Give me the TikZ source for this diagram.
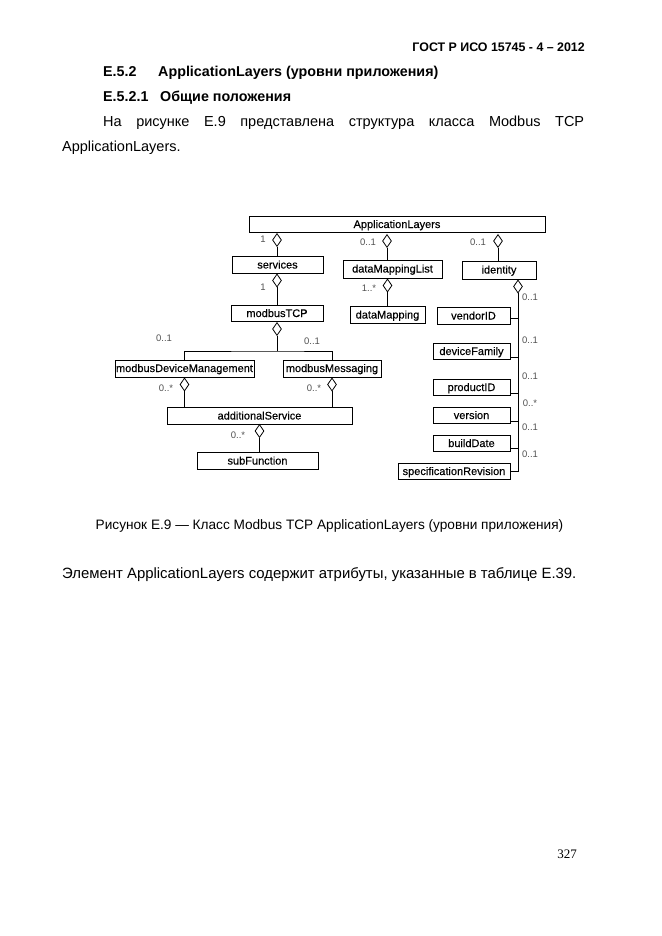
\documentclass[tikz,border=0pt]{standalone}
\usepackage{fontspec}
\setmainfont{Liberation Sans}
\newfontfamily\pagefont{Liberation Serif}
\newfontfamily\boxfont[FakeBold=0.3]{Liberation Sans}
\usetikzlibrary{shapes.geometric}
\begin{document}
\begin{tikzpicture}[x=1pt,y=-1pt,
  cls/.style={draw, line width=0.9pt, rectangle, inner sep=0pt, text height=8pt, text depth=1pt, font=\boxfont\fontsize{11}{12}\selectfont},
  agg/.style={draw, diamond, line width=0.8pt, inner sep=0pt, minimum width=9pt, minimum height=13pt, fill=white},
  mult/.style={font=\fontsize{9.5}{11}\selectfont, text=black!68, inner sep=0pt},
  conn/.style={line width=0.8pt},
  body/.style={anchor=base west, inner sep=0pt, font=\fontsize{14.5}{16}\selectfont},
  bodyb/.style={anchor=base west, inner sep=0pt, font=\bfseries\fontsize{14.3}{16}\selectfont}]
\useasboundingbox (0,0) rectangle (661,936);
\fill[white] (0,0) rectangle (661,936);

% ---- page text ----
\node[anchor=base east, inner sep=0pt, font=\bfseries\fontsize{12.4}{14}\selectfont] (hdr) at (585,52) {ГОСТ Р ИСО 15745 - 4 – 2012};
\node[bodyb] (h1n) at (103,77) {E.5.2};
\node[bodyb] (h1t) at (158,77) {ApplicationLayers (уровни приложения)};
\node[bodyb] (h2n) at (103,102) {E.5.2.1};
\node[bodyb] (h2t) at (160,102) {Общие положения};
\node[body] (p1) at (103,127) {\hbox to 481pt{На\hfil рисунке\hfil Е.9\hfil представлена\hfil структура\hfil класса\hfil Modbus\hfil TCP}};
\node[body] (p2) at (62,152) {ApplicationLayers.};
\node[anchor=base, inner sep=0pt, font=\fontsize{13.65}{15}\selectfont] (cap) at (329.5,529) {Рисунок Е.9 — Класс Modbus TCP ApplicationLayers (уровни приложения)};
\node[body, font=\fontsize{14.9}{16}\selectfont] (p3) at (62,578) {Элемент ApplicationLayers содержит атрибуты, указанные в таблице Е.39.};
\node[anchor=base east, inner sep=0pt, font=\pagefont\fontsize{13}{15}\selectfont] (pg) at (577,858) {327};

% ---- classes ----
\node[cls, minimum width=296pt, minimum height=16pt] (al) at (397,224.5) {ApplicationLayers};
\node[cls, minimum width=91pt, minimum height=16.5pt] (srv) at (277.5,265) {services};
\node[cls, minimum width=99pt, minimum height=18pt] (dml) at (392.5,269) {dataMappingList};
\node[cls, minimum width=74pt, minimum height=18pt] (idn) at (499,270) {identity};
\node[cls, minimum width=92pt, minimum height=16.5pt] (tcp) at (277,313.5) {modbusTCP};
\node[cls, minimum width=75pt, minimum height=16.5pt] (dm) at (387.5,315) {dataMapping};
\node[cls, minimum width=73pt, minimum height=16.5pt] (vid) at (473.5,316) {vendorID};
\node[cls, minimum width=77pt, minimum height=15.5pt] (dfam) at (471.5,351.5) {deviceFamily};
\node[cls, minimum width=77pt, minimum height=15.5pt] (pid) at (471.5,387.5) {productID};
\node[cls, minimum width=77pt, minimum height=15.5pt] (ver) at (471.5,415.5) {version};
\node[cls, minimum width=77pt, minimum height=15.5pt] (bd) at (471.5,443.5) {buildDate};
\node[cls, minimum width=112pt, minimum height=15.5pt] (sr) at (454,471.5) {specificationRevision};
\node[cls, minimum width=139pt, minimum height=17pt] (mdm) at (184.5,368.5) {modbusDeviceManagement};
\node[cls, minimum width=98pt, minimum height=17pt] (mm) at (332,368.5) {modbusMessaging};
\node[cls, minimum width=185pt, minimum height=16.5pt] (as) at (259.5,416) {additionalService};
\node[cls, minimum width=121pt, minimum height=16.5pt] (sf) at (257.5,461) {subFunction};

% ---- aggregation diamonds ----
\node[agg] (dA1) at (277,240) {};
\node[agg] (dA2) at (387,241) {};
\node[agg] (dA3) at (498,241) {};
\node[agg] (dS) at (277,280.5) {};
\node[agg] (dD) at (387.5,285.5) {};
\node[agg] (dI) at (518,286.5) {};
\node[agg] (dT) at (277,329) {};
\node[agg] (dM1) at (184.5,384.5) {};
\node[agg] (dM2) at (332,384.5) {};
\node[agg] (dAS) at (259.5,431) {};

% ---- connectors ----
\draw[conn] (dA1.south) -- (dA1.south |- srv.north);
\draw[conn] (dA2.south) -- (dA2.south |- dml.north);
\draw[conn] (dA3.south) -- (dA3.south |- idn.north);
\draw[conn] (dS.south) -- (dS.south |- tcp.north);
\draw[conn] (dD.south) -- (dD.south |- dm.north);
\coordinate (j) at (277,351);
\draw[conn] (dT.south) -- (j);
\draw[conn] (mdm.north) |- (j) -| (mm.north);
\draw[conn] (dM1.south) -- (dM1.south |- as.north);
\draw[conn] (dM2.south) -- (dM2.south |- as.north);
\draw[conn] (dAS.south) -- (dAS.south |- sf.north);
\draw[conn] (dI.south) -- (dI.south |- sr.east) -- (sr.east);
\draw[conn] ([yshift=-2pt]vid.east) -- ([yshift=-2pt]vid.east -| dI.south);
\draw[conn] ([yshift=-5.5pt]dfam.east) -- ([yshift=-5.5pt]dfam.east -| dI.south);
\draw[conn] ([yshift=-5.5pt]pid.east) -- ([yshift=-5.5pt]pid.east -| dI.south);
\draw[conn] ([yshift=-5.5pt]ver.east) -- ([yshift=-5.5pt]ver.east -| dI.south);
\draw[conn] ([yshift=-4.5pt]bd.east) -- ([yshift=-4.5pt]bd.east -| dI.south);

% ---- multiplicities ----
\node[mult] (m1) at (263,239) {1};
\node[mult] (m2) at (368,242) {0..1};
\node[mult] (m3) at (478,242) {0..1};
\node[mult] (m4) at (263,287) {1};
\node[mult] (m5) at (369,288) {1..*};
\node[mult] (m6) at (530,297) {0..1};
\node[mult] (m7) at (164,338) {0..1};
\node[mult] (m8) at (312,341) {0..1};
\node[mult] (m9) at (166,388) {0..*};
\node[mult] (m10) at (314,388) {0..*};
\node[mult] (m11) at (238,435) {0..*};
\node[mult] (m12) at (530,340) {0..1};
\node[mult] (m13) at (530,376) {0..1};
\node[mult] (m14) at (530,403) {0..*};
\node[mult] (m15) at (530,427) {0..1};
\node[mult] (m16) at (530,454) {0..1};
\end{tikzpicture}
\end{document}
